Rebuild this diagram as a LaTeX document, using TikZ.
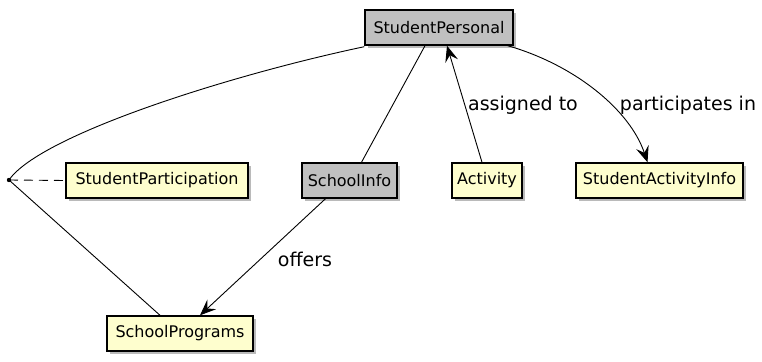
\documentclass[tikz,border=0pt]{standalone}
\usepackage{fontspec}
\setmainfont{DejaVu Sans}
\usetikzlibrary{shadows,arrows.meta}
\definecolor{cls}{HTML}{FEFECE}
\definecolor{grayc}{HTML}{C0C0C0}
\begin{document}
\begin{tikzpicture}[x=1pt,y=-1pt,
  box/.style={draw=black,line width=1.4pt,fill=cls,inner sep=0pt,minimum height=35pt,
    font=\fontsize{16}{19}\selectfont,
    drop shadow={shadow xshift=3pt,shadow yshift=-3pt,opacity=0.45,fill=black!60}},
  gbox/.style={box,fill=grayc},
  conn/.style={line width=0.9pt},
  arr/.style={conn,-{Stealth[length=16pt,width=13pt,inset=6pt]}},
  lbl/.style={font=\fontsize{19}{22}\selectfont}]
\useasboundingbox (0,0) rectangle (762,361);
\node[gbox,minimum width=148pt] (sp) at (439,27.5) {StudentPersonal};
\node[box,minimum width=182pt] (spart) at (157,180.5) {StudentParticipation};
\node[gbox,minimum width=95pt] (si) at (349.5,180.5) {SchoolInfo};
\node[box,minimum width=70pt] (act) at (487,180.5) {Activity};
\node[box,minimum width=167pt] (sai) at (659.5,180.5) {StudentActivityInfo};
\node[box,minimum width=146pt] (prog) at (180,333.5) {SchoolPrograms};
\coordinate (dot) at (9,180);
\fill (dot) circle (2.2pt);
\draw[conn] ([yshift=-1pt]sp.south west) .. controls (230,75) and (40,135) .. (dot);
\draw[conn] (dot) -- ([xshift=-20pt]prog.north);
\draw[conn,dash pattern=on 9pt off 6pt] (dot) -- (spart.west);
\draw[conn] ([xshift=-14pt]sp.south) -- ([xshift=12pt]si.north);
\draw[arr] ([xshift=-24pt]si.south) -- ([xshift=20pt]prog.north);
\node[lbl] (offl) at (305,259) {offers};
\draw[arr] ([xshift=-5pt]act.north) -- ([xshift=8pt]sp.south);
\node[lbl] (asl) at (523,105) {assigned to};
\draw[arr] ([xshift=-6pt]sp.south east) .. controls (575,65) and (630,110) .. ([xshift=-12pt]sai.north);
\node[lbl] (pl) at (688,105) {participates in};
\end{tikzpicture}
\end{document}
